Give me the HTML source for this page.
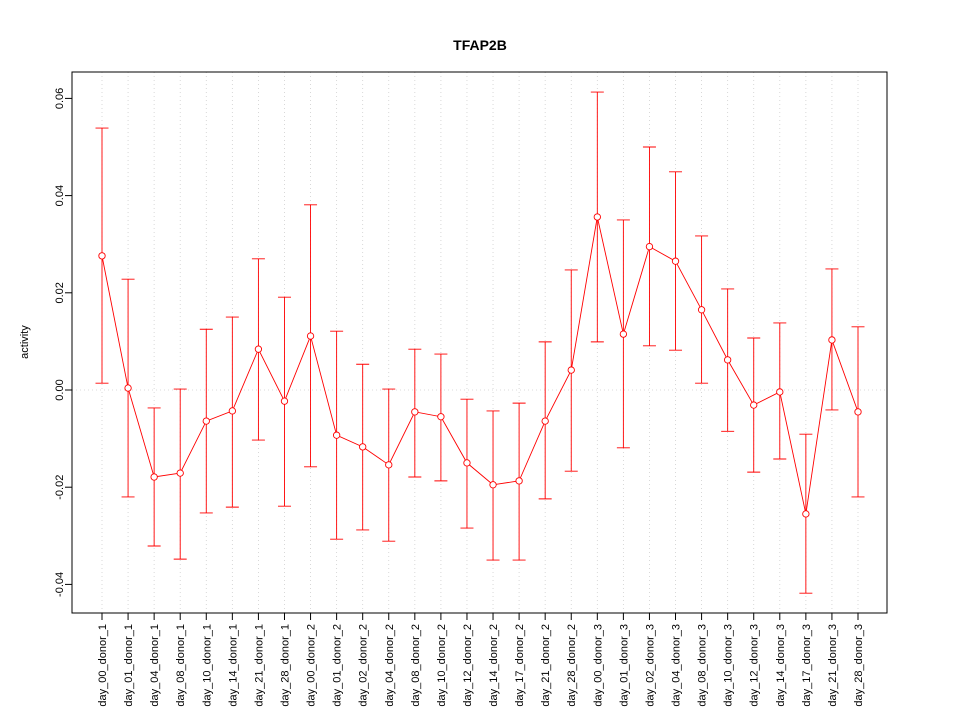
<!DOCTYPE html>
<html><head><meta charset="utf-8"><style>
body{margin:0;background:#fff}
svg text{font-family:"Liberation Sans",sans-serif}
</style></head><body>
<svg id="chart" width="960" height="720" xmlns="http://www.w3.org/2000/svg">
<rect width="960" height="720" fill="#fff"/>
<text x="480" y="50" text-anchor="middle" font-size="14" font-weight="bold">TFAP2B</text>
<text x="28" y="342" text-anchor="middle" font-size="11" transform="rotate(-90 28 342)">activity</text>
<g id="grid"></g><g id="axes"></g><g id="marks"></g>
<rect x="72" y="72" width="815" height="541" fill="none" stroke="#000"/>
</svg>
<script>
const categories=["day_00_donor_1","day_01_donor_1","day_04_donor_1","day_08_donor_1","day_10_donor_1","day_14_donor_1","day_21_donor_1","day_28_donor_1","day_00_donor_2","day_01_donor_2","day_02_donor_2","day_04_donor_2","day_08_donor_2","day_10_donor_2","day_12_donor_2","day_14_donor_2","day_17_donor_2","day_21_donor_2","day_28_donor_2","day_00_donor_3","day_01_donor_3","day_02_donor_3","day_04_donor_3","day_08_donor_3","day_10_donor_3","day_12_donor_3","day_14_donor_3","day_17_donor_3","day_21_donor_3","day_28_donor_3"];
const activity=[0.0276,0.0004,-0.0179,-0.0171,-0.0064,-0.0043,0.0084,-0.0023,0.0111,-0.0093,-0.0117,-0.0154,-0.0045,-0.0055,-0.0150,-0.0195,-0.0187,-0.0064,0.0041,0.0356,0.0115,0.0295,0.0265,0.0165,0.0062,-0.0031,-0.0004,-0.0255,0.0103,-0.0045];
const upper=[0.0539,0.0228,-0.0037,0.0002,0.0125,0.0150,0.0270,0.0191,0.0381,0.0121,0.0053,0.0002,0.0084,0.0074,-0.0019,-0.0043,-0.0027,0.0099,0.0247,0.0613,0.0350,0.0500,0.0449,0.0317,0.0208,0.0107,0.0138,-0.0091,0.0249,0.0130];
const lower=[0.0014,-0.0220,-0.0321,-0.0348,-0.0253,-0.0241,-0.0103,-0.0239,-0.0158,-0.0307,-0.0288,-0.0311,-0.0179,-0.0187,-0.0284,-0.0350,-0.0350,-0.0224,-0.0167,0.0099,-0.0119,0.0091,0.0082,0.0014,-0.0085,-0.0169,-0.0142,-0.0418,-0.0041,-0.0220];
const yTicks=[-0.04,-0.02,0.00,0.02,0.04,0.06];
const yTickLabels=["-0.04","-0.02","0.00","0.02","0.04","0.06"];
const NS="http://www.w3.org/2000/svg";
const X=i=>102+i*(858-102)/(categories.length-1);
const Y=v=>390-v*4860;
function mk(parent,tag,attrs){const e=document.createElementNS(NS,tag);for(const k in attrs)e.setAttribute(k,attrs[k]);document.getElementById(parent).appendChild(e);return e;}
categories.forEach((c,i)=>{const g=mk('grid','line',{x1:X(i),x2:X(i),y1:72,y2:613,stroke:'#cfcfcf','stroke-width':0.8,'stroke-dasharray':'1,3'});

});
const hz=mk('grid','line',{x1:72,x2:887,y1:Y(0),y2:Y(0),stroke:'#cfcfcf','stroke-width':0.8,'stroke-dasharray':'1,3'});


yTicks.forEach((v,i)=>{const t=mk('axes','line',{x1:65,x2:72,y1:Y(v),y2:Y(v),stroke:'#000'});


const l=mk('axes','text',{x:63,y:Y(v),'font-size':11,'text-anchor':'middle',transform:`rotate(-90 63 ${Y(v)})`});
l.textContent=yTickLabels[i];

});
categories.forEach((c,i)=>{const t=mk('axes','line',{x1:X(i),x2:X(i),y1:613,y2:620,stroke:'#000'});


const l=mk('axes','text',{x:X(i)+4,y:624,'font-size':11,'text-anchor':'end',transform:`rotate(-90 ${X(i)+4} 624)`});
l.textContent=c;

});
categories.forEach((c,i)=>{const x=X(i);
const b=mk('marks','path',{d:`M${x},${Y(upper[i])}V${Y(lower[i])}M${x-6.5},${Y(upper[i])}H${x+6.5}M${x-6.5},${Y(lower[i])}H${x+6.5}`,stroke:'#f00','stroke-width':0.9,fill:'none'});

});
const line=mk('marks','polyline',{points:activity.map((v,i)=>X(i)+','+Y(v)).join(' '),stroke:'#f00','stroke-width':0.9,fill:'none'});


activity.forEach((v,i)=>{const p=mk('marks','circle',{cx:X(i),cy:Y(v),r:3.2,stroke:'#f00','stroke-width':0.9,fill:'#fff'});

});
</script>
</body></html>
